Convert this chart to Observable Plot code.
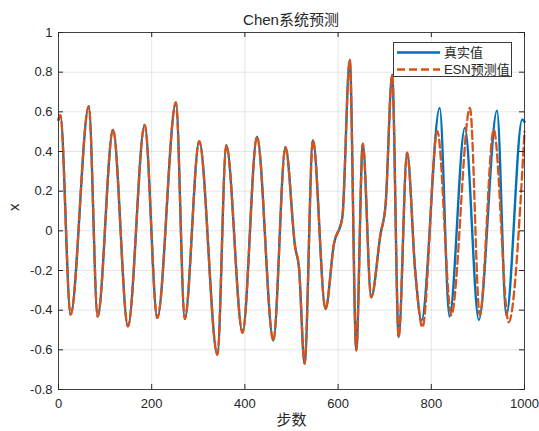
<!DOCTYPE html>
<html>
<head>
<meta charset="utf-8">
<script src="https://cdn.jsdelivr.net/npm/d3@7"></script>
<script src="https://cdn.jsdelivr.net/npm/@observablehq/plot@0.6"></script>
<style>
  html, body { margin: 0; padding: 0; background: #fff; }
  #wrap { position: relative; width: 539px; height: 431px; }
  #legend { position: absolute; left: 393px; top: 42px; width: 119px; height: 35px;
            border: 1px solid #3a3a3a; background: #fff; box-sizing: border-box; }
  #title { position: absolute; left: 58px; width: 466px; top: 11px; text-align: center;
           font: 15px 'Liberation Sans', 'Noto Sans CJK SC', sans-serif; color: #262626; line-height: 18px; }
</style>
</head>
<body>
<div id="wrap"></div>
<script>
// Key points (step, value)
const sharedSteps = [0, 4, 26, 65, 84, 117, 149, 185, 212, 252, 271, 302, 341, 360, 395, 426, 461, 487, 508, 516, 528, 546, 573, 591, 609, 625, 639, 653, 671, 691, 702, 716, 730, 748, 766];
const sharedVals  = [0.56, 0.583, -0.422, 0.628, -0.432, 0.51, -0.482, 0.534, -0.439, 0.647, -0.444, 0.452, -0.625, 0.432, -0.513, 0.474, -0.553, 0.422, -0.084, -0.184, -0.67, 0.457, -0.394, -0.067, 0.067, 0.863, -0.603, 0.439, -0.335, -0.017, 0.134, 0.787, -0.536, 0.394, -0.218];
const trueTailSteps = [779, 818, 839, 872, 902, 941, 961, 995, 1000];
const trueTailVals  = [-0.452, 0.62, -0.432, 0.519, -0.449, 0.606, -0.427, 0.561, 0.55];
const predTailSteps = [781, 813, 843, 883, 904, 934, 966, 1000];
const predTailVals  = [-0.486, 0.503, -0.425, 0.62, -0.425, 0.51, -0.461, 0.50];
const xTicks = [0, 200, 400, 600, 800, 1000];
const yTicks = [-0.8, -0.6, -0.4, -0.2, 0, 0.2, 0.4, 0.6, 0.8, 1];
const titleText = "Chen系统预测";
const xLabel = "步数";
const yLabel = "x";
const seriesNames = ["真实值", "ESN预测值"];

const shared = sharedSteps.map((s, i) => ({step: s, value: sharedVals[i]}));
const trueData = shared.concat(trueTailSteps.map((s, i) => ({step: s, value: trueTailVals[i]})));
const predData = shared.concat(predTailSteps.map((s, i) => ({step: s, value: predTailVals[i]})));

const W = 539, H = 431, mL = 58, mR = 15, mT = 32, mB = 42;
const pw = W - mL - mR, ph = H - mT - mB;
const blue = "#0072BD", orange = "#D95319", ink = "#262626";
const fmt = d => String(+d.toFixed(1));

const chart = Plot.plot({
  width: W, height: H,
  marginLeft: mL, marginRight: mR, marginTop: mT, marginBottom: mB,
  x: {domain: [0, 1000]},
  y: {domain: [-0.8, 1]},
  style: {fontFamily: "'Liberation Sans', Arial, 'Noto Sans CJK SC', sans-serif", fontSize: "13px", color: ink, background: "#fff"},
  marks: [
    Plot.gridX(xTicks, {stroke: "#000", strokeOpacity: 0.1}),
    Plot.gridY(yTicks, {stroke: "#000", strokeOpacity: 0.1}),
    Plot.line(trueData, {x: "step", y: "value", curve: "monotone-x", stroke: blue, strokeWidth: 2.4}),
    Plot.line(predData, {x: "step", y: "value", curve: "monotone-x", stroke: orange, strokeWidth: 2.3, strokeDasharray: "8,4"}),
    Plot.frame({stroke: ink, strokeOpacity: 0.85}),
    Plot.ruleX(xTicks, {x: d => d, insetTop: ph - 5, stroke: ink}),
    Plot.ruleX(xTicks, {x: d => d, insetBottom: ph - 5, stroke: ink}),
    Plot.ruleY(yTicks, {y: d => d, insetRight: pw - 5, stroke: ink}),
    Plot.ruleY(yTicks, {y: d => d, insetLeft: pw - 5, stroke: ink}),
    Plot.axisX(xTicks, {tickSize: 0, tickPadding: 9, tickFormat: d => String(d), label: null, fontSize: 13}),
    Plot.axisY(yTicks, {tickSize: 0, tickPadding: 6, tickFormat: fmt, label: null, fontSize: 13}),
    Plot.text([xLabel], {text: d => d, frameAnchor: "bottom", dy: 35, fontSize: 15, fontFamily: "'Noto Sans CJK SC', sans-serif"}),
    Plot.text([yLabel], {text: d => d, frameAnchor: "left", dx: -44, rotate: -90, fontSize: 15})
  ]
});
const wrap = document.getElementById("wrap");
wrap.appendChild(chart);

const tt = document.createElement("div");
tt.id = "title";
tt.textContent = titleText;
wrap.appendChild(tt);

// Legend overlay
const lg = document.createElement("div");
lg.id = "legend";
const ns = "http://www.w3.org/2000/svg";
const svg = document.createElementNS(ns, "svg");
svg.setAttribute("width", "117"); svg.setAttribute("height", "33");
const rows = [{name: seriesNames[0], color: blue, dash: null, y: 9.5}, {name: seriesNames[1], color: orange, dash: "8,4", y: 26.5}];
rows.forEach(r => {
  const l = document.createElementNS(ns, "line");
  l.setAttribute("x1", 3); l.setAttribute("x2", 46); l.setAttribute("y1", r.y); l.setAttribute("y2", r.y);
  l.setAttribute("stroke", r.color); l.setAttribute("stroke-width", 2.3);
  if (r.dash) l.setAttribute("stroke-dasharray", r.dash);
  svg.appendChild(l);
  const t = document.createElementNS(ns, "text");
  t.setAttribute("x", 50); t.setAttribute("y", r.y); t.setAttribute("dy", "0.35em");
  t.setAttribute("font-size", "13"); t.setAttribute("fill", ink);
  t.setAttribute("font-family", "'Liberation Sans', 'Noto Sans CJK SC', sans-serif");
  t.textContent = r.name;
  svg.appendChild(t);
});
lg.appendChild(svg);
wrap.appendChild(lg);
</script>
</body>
</html>
